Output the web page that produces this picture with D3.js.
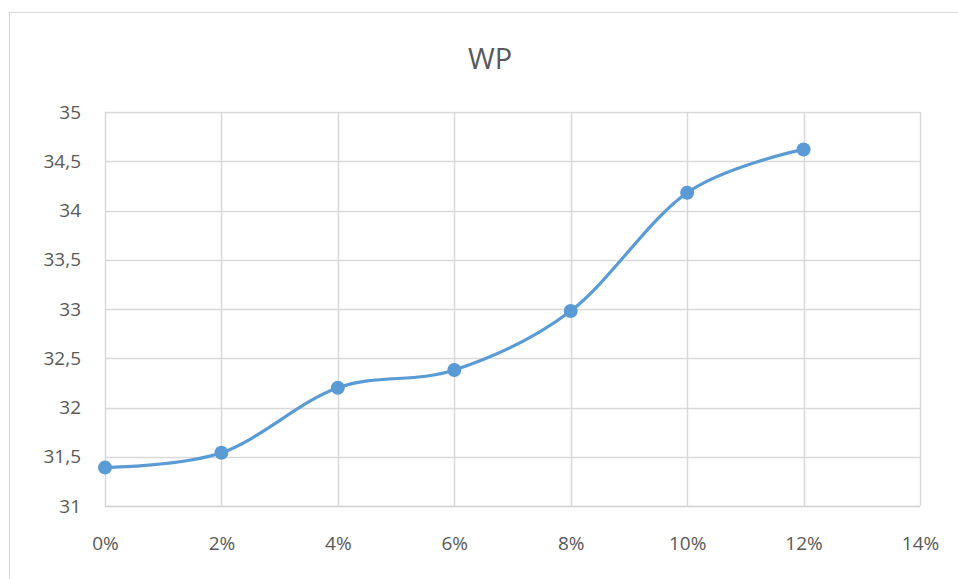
<!DOCTYPE html>
<html><head><meta charset="utf-8">
<script src="https://cdn.jsdelivr.net/npm/d3@7"></script>
<style>body{margin:0;background:#fff}svg{display:block}</style>
</head><body>
<svg id="c" width="958" height="579"></svg>
<script>
const title = "WP";
const xValues = [0, 0.02, 0.04, 0.06, 0.08, 0.10, 0.12];
const yValues = [31.39, 31.54, 32.20, 32.38, 32.98, 34.18, 34.62];
const xTicks = [0, 0.02, 0.04, 0.06, 0.08, 0.10, 0.12, 0.14];
const yTicks = [31, 31.5, 32, 32.5, 33, 33.5, 34, 34.5, 35];

const svg = d3.select("#c");
const W = 958, H = 579;
const m = {left:105, right:920, top:112, bottom:506};
const font = "'Open Sans', 'Noto Sans', sans-serif";
const txt = "#595959";

svg.append("rect").attr("x",9.5).attr("y",12.5).attr("width",W+10).attr("height",H+10)
  .attr("fill","#fff").attr("stroke","#d9d9d9").attr("stroke-width",1);

const x = d3.scaleLinear().domain([0,0.14]).range([m.left,m.right]);
const y = d3.scaleLinear().domain([31,35]).range([m.bottom,m.top]);

const g = svg.append("g");
g.selectAll(".hy").data(yTicks).join("line")
  .attr("x1",m.left).attr("x2",m.right)
  .attr("y1",d=>Math.round(y(d))+0.5).attr("y2",d=>Math.round(y(d))+0.5)
  .attr("stroke",d=>d===31?"#cfcfcf":"#d9d9d9").attr("stroke-width",1.5);
g.selectAll(".vx").data(xTicks).join("line")
  .attr("y1",m.top).attr("y2",m.bottom)
  .attr("x1",d=>Math.round(x(d))+0.5).attr("x2",d=>Math.round(x(d))+0.5)
  .attr("stroke","#d9d9d9").attr("stroke-width",1.5);

const yAxis = d3.axisLeft(y).tickValues(yTicks).tickSize(0).tickPadding(0)
  .tickFormat(d=>String(d).replace(".",","));
const ya = svg.append("g").attr("transform",`translate(${81},0)`).call(yAxis);
ya.select(".domain").remove();
ya.selectAll("text").attr("fill",txt).style("font-family",font).style("font-size","19px");

const xAxis = d3.axisBottom(x).tickValues(xTicks).tickSize(0).tickPadding(0)
  .tickFormat(d=>Math.round(d*100)+"%");
const xa = svg.append("g").attr("transform",`translate(0,${m.bottom+30})`).call(xAxis);
xa.select(".domain").remove();
xa.selectAll("text").attr("fill",txt).style("font-family",font).style("font-size","19px");

svg.append("text").attr("x",490).attr("y",69).attr("text-anchor","middle")
  .attr("fill",txt).style("font-family",font).style("font-size","29px").text(title);

const data = xValues.map((v,i)=>[v,yValues[i]]);
const line = d3.line().x(d=>x(d[0])).y(d=>y(d[1])).curve(d3.curveCardinal.tension(0));
svg.append("path").datum(data).attr("d",line).attr("fill","none")
  .attr("stroke","#5B9BD5").attr("stroke-width",3.2).attr("stroke-linecap","round");
svg.selectAll(".pt").data(data).join("circle")
  .attr("cx",d=>x(d[0])).attr("cy",d=>y(d[1])).attr("r",7).attr("fill","#5B9BD5");
</script>
</body></html>
